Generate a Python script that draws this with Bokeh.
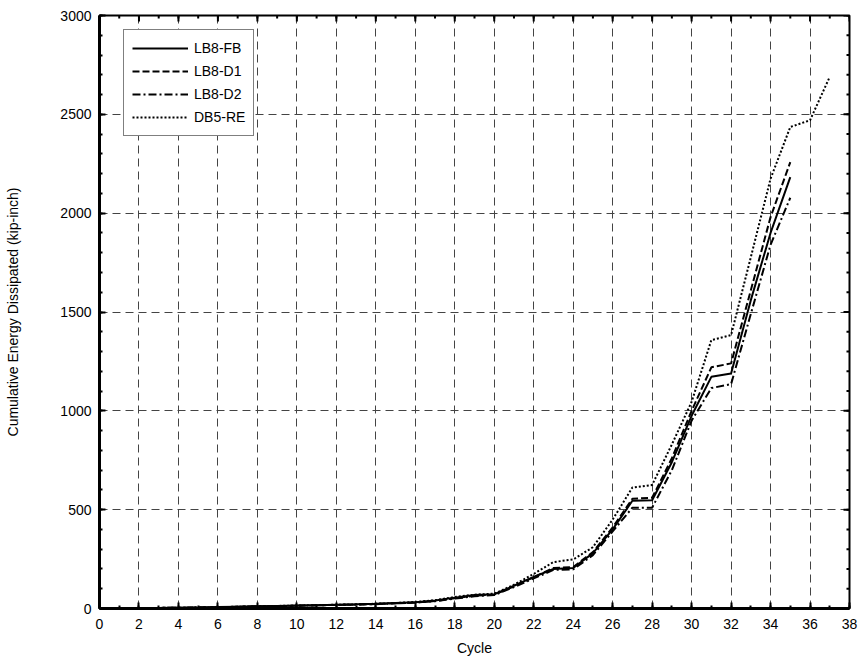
import math
from bokeh.plotting import figure
from bokeh.models import Range1d, FixedTicker, Legend, LegendItem
from bokeh.embed import file_html
from bokeh.resources import INLINE

# ---- data ----
cycles_lb8 = list(range(1, 36))
cycles_db5 = list(range(1, 38))
lb8_fb = [1, 2, 3, 4, 5, 7, 9, 11, 13, 15, 17, 19, 21, 24, 28, 32, 40, 55, 68, 72,
          115, 160, 200, 205, 280, 400, 545, 548, 740, 975, 1172, 1189, 1560, 1900, 2182]
lb8_d1 = [1, 2, 3, 4, 5, 7, 9, 11, 12, 14, 16, 18, 20, 23, 26, 30, 38, 52, 65, 70,
          112, 158, 205, 210, 285, 410, 555, 560, 760, 1000, 1220, 1240, 1610, 1980, 2258]
lb8_d2 = [1, 2, 3, 4, 5, 6, 8, 10, 12, 14, 16, 18, 20, 22, 26, 30, 37, 50, 62, 68,
          108, 152, 195, 198, 270, 390, 510, 510, 700, 950, 1115, 1135, 1490, 1840, 2078]
db5_re = [1, 2, 3, 4, 5, 7, 9, 11, 13, 15, 17, 19, 21, 24, 28, 33, 42, 58, 70, 75,
          120, 175, 235, 248, 310, 450, 612, 625, 830, 1045, 1358, 1383, 1777, 2174, 2436, 2470, 2690]
series_names = ["LB8-FB", "LB8-D1", "LB8-D2", "DB5-RE"]
x_ticks = list(range(0, 39, 2))
x_minor = list(range(0, 39, 1))
y_ticks = list(range(0, 3001, 500))
y_minor = list(range(0, 3001, 100))
x_label = "Cycle"
y_label = "Cumulative Energy Dissipated (kip-inch)"

FONT = "Liberation Sans"
X_END = 38
Y_END = 3000

p = figure(width=860, height=658, output_backend="svg", toolbar_location=None,
           x_range=Range1d(0, X_END), y_range=Range1d(0, Y_END),
           min_border_left=99, min_border_right=11, min_border_top=15, min_border_bottom=46)
p.background_fill_color = "white"
p.border_fill_color = "white"
p.outline_line_color = "black"
p.outline_line_width = 2

xt = FixedTicker(ticks=x_ticks, minor_ticks=x_minor)
yt = FixedTicker(ticks=y_ticks, minor_ticks=y_minor)

for ax, t in ((p.xaxis[0], xt), (p.yaxis[0], yt)):
    ax.ticker = t
    ax.axis_line_width = 3
    ax.axis_line_color = "black"
    ax.major_tick_in = 6
    ax.major_tick_out = 0
    ax.minor_tick_in = 3
    ax.minor_tick_out = 0
    ax.major_tick_line_width = 2
    ax.minor_tick_line_width = 2
    ax.major_tick_line_color = "black"
    ax.minor_tick_line_color = "black"
    ax.major_label_text_font = FONT
    ax.major_label_text_font_size = "14px"
    ax.major_label_text_color = "black"
    ax.axis_label_text_font = FONT
    ax.axis_label_text_font_size = "14px"
    ax.axis_label_text_font_style = "normal"
    ax.axis_label_text_color = "black"

p.xaxis[0].axis_label = x_label
p.xaxis[0].major_label_standoff = 10
p.xaxis[0].axis_label_standoff = 8
p.yaxis[0].axis_label = y_label
p.yaxis[0].major_label_standoff = 8
p.yaxis[0].axis_label_standoff = 36

p.xgrid.ticker = xt
p.ygrid.ticker = yt
for g in (p.xgrid[0], p.ygrid[0]):
    g.grid_line_color = "#444444"
    g.grid_line_dash = "8 5"
    g.grid_line_width = 1

# inward tick marks on the top and right frame edges (clipped to the frame)
p.scatter(x=x_ticks, y=[Y_END] * len(x_ticks), marker="dash", angle=math.pi / 2,
          size=12, line_color="black", line_width=2)
p.scatter(x=x_minor, y=[Y_END] * len(x_minor), marker="dash", angle=math.pi / 2,
          size=6, line_color="black", line_width=2)
p.scatter(x=[X_END] * len(y_ticks), y=y_ticks, marker="dash",
          size=12, line_color="black", line_width=2)
p.scatter(x=[X_END] * len(y_minor), y=y_minor, marker="dash",
          size=6, line_color="black", line_width=2)

r1 = p.line(cycles_lb8, lb8_fb, line_color="black", line_width=2)
r2 = p.line(cycles_lb8, lb8_d1, line_color="black", line_width=2, line_dash="7 3")
r3 = p.line(cycles_lb8, lb8_d2, line_color="black", line_width=2, line_dash="8 3 2 3")
r4 = p.line(cycles_db5, db5_re, line_color="black", line_width=2, line_dash="2 2")

legend = Legend(items=[LegendItem(label=n, renderers=[r]) for n, r in
                       zip(series_names, [r1, r2, r3, r4])],
                location=(24, 472))
legend.label_text_font = FONT
legend.label_text_font_size = "14px"
legend.label_text_color = "black"
legend.border_line_color = "black"
legend.border_line_width = 1
legend.background_fill_alpha = 1
legend.glyph_width = 56
legend.glyph_height = 20
legend.label_height = 20
legend.spacing = 3
legend.padding = 8
legend.margin = 0
legend.label_standoff = 6
p.add_layout(legend, "center")

open("out.html", "w").write(file_html(p, INLINE))
